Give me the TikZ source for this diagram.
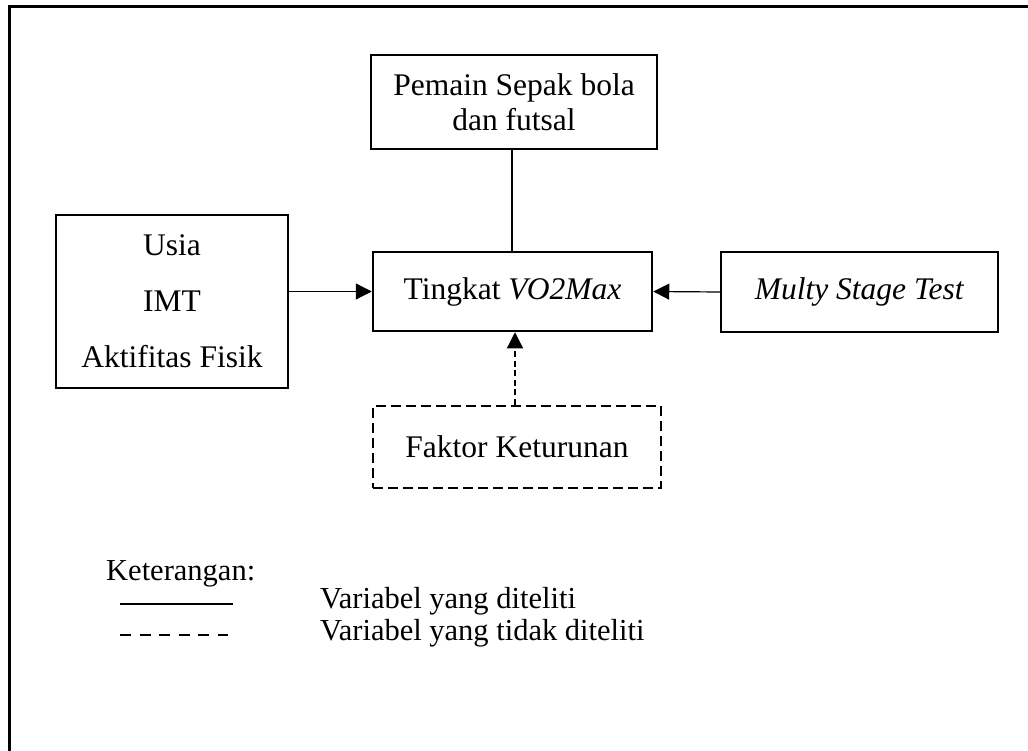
\documentclass[tikz,border=0pt]{standalone}
\usepackage{fontspec}
\setmainfont{Liberation Serif}
\usetikzlibrary{arrows.meta}
\begin{document}
\begin{tikzpicture}[x=1pt,y=-1pt,
  txt/.style={font=\fontsize{31.5}{35}\selectfont},
  box/.style={draw,line width=2.5pt,inner sep=0pt,txt,align=center},
  dbox/.style={box,dash pattern=on 10pt off 5pt},
  conn/.style={line width=1.2pt},
  arr/.style={conn,-{Triangle[length=16pt,width=16pt]}},
  lbl/.style={font=\fontsize{30.5}{35}\selectfont,anchor=base west,inner sep=0pt}]
\useasboundingbox (0,0) rectangle (1028,751);
\draw[line width=3pt] (9.5,751) -- (9.5,7) -- (1028,7);
\node[box,minimum width=286pt,minimum height=94pt] (top) at (514,102) {Pemain Sepak bola\\dan futsal};
\node[box,minimum width=232pt,minimum height=173pt,font=\fontsize{31.5}{56}\selectfont] (left) at (172,301.5) {Usia\\IMT\\Aktifitas Fisik};
\node[box,minimum width=279pt,minimum height=79pt] (mid) at (512.5,291.5) {Tingkat \textit{VO2Max}};
\node[box,minimum width=277pt,minimum height=80pt] (right) at (859.5,292) {\textit{Multy Stage Test}};
\node[dbox,minimum width=288pt,minimum height=82pt] (dash) at (517,447) {Faktor Keturunan};
\coordinate (cjoin) at (mid.north -| 512,0);
\draw[conn] (top.south -| cjoin) -- (cjoin);
\draw[arr] (left.east |- mid.west) -- (mid.west);
\draw[arr] (right.west) -- (mid.east);
\draw[arr,dash pattern=on 6pt off 3.5pt] (dash.north -| 515,0) -- (mid.south -| 515,0);
\node[lbl] (ket) at (106,580) {Keterangan:};
\coordinate (s1) at (120,604);
\coordinate (s2) at (233,604);
\coordinate (d1) at (120,635);
\coordinate (d2) at (228,635);
\draw[line width=2.5pt] (s1) -- (s2);
\draw[line width=2.5pt,dash pattern=on 11pt off 8.5pt] (d1) -- (d2);
\node[lbl] (l1) at (320,608) {Variabel yang diteliti};
\node[lbl] (l2) at (320,640) {Variabel yang tidak diteliti};
\end{tikzpicture}
\end{document}
